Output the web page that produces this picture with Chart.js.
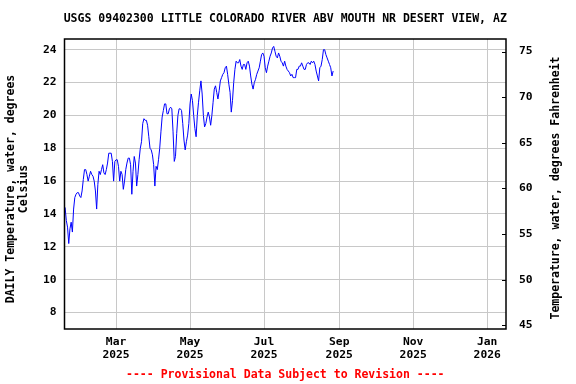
<!DOCTYPE html>
<html>
<head>
<meta charset="utf-8">
<script src="https://cdn.jsdelivr.net/npm/chart.js@4/dist/chart.umd.min.js"></script>
<style>
  html, body { margin: 0; padding: 0; background: #fff; }
  #wrap { width: 576px; height: 384px; }
</style>
</head>
<body>
<div id="wrap"><canvas id="chart" width="576" height="384"></canvas></div>
<script>
// Daily water temperature (deg C), one value per day from Jan 18, 2025
const startDay = 17; // day of year 2025 (Jan 1 = 0)
const tempC = [
  14.4, 13.6, 13.2, 12.2, 13.1, 13.5, 12.9, 14.3, 15.0, 15.2,
  15.3, 15.3, 15.1, 15.0, 15.4, 16.1, 16.7, 16.7, 16.4, 16.0,
  16.3, 16.6, 16.4, 16.3, 16.0, 15.4, 14.3, 15.8, 16.6, 16.4,
  16.7, 17.0, 16.5, 16.4, 16.7, 17.1, 17.7, 17.7, 17.7, 17.2,
  16.0, 17.2, 17.3, 17.3, 16.9, 16.0, 16.6, 16.4, 15.5, 16.0,
  16.7, 17.1, 17.4, 17.4, 17.0, 15.2, 16.6, 17.5, 17.1, 15.7,
  16.4, 17.3, 18.0, 18.4, 19.5, 19.8, 19.7, 19.7, 19.4, 18.7,
  18.0, 17.9, 17.6, 17.0, 15.7, 16.9, 16.7, 17.3, 18.0, 19.0,
  19.9, 20.3, 20.7, 20.7, 20.1, 20.1, 20.4, 20.5, 20.4, 19.0,
  17.2, 17.5, 18.9, 20.0, 20.4, 20.4, 20.3, 19.5, 18.5, 17.9,
  18.4, 18.8, 19.5, 20.7, 21.3, 20.9, 20.0, 19.2, 18.7, 20.0,
  20.8, 21.5, 22.1, 21.3, 20.0, 19.3, 19.5, 19.9, 20.2, 19.9,
  19.4, 20.0, 20.8, 21.6, 21.8, 21.4, 21.0, 21.5, 22.1, 22.3,
  22.5, 22.6, 22.9, 23.0, 22.5, 21.9, 21.4, 20.2, 20.9, 22.0,
  22.8, 23.3, 23.2, 23.2, 23.4, 23.0, 22.8, 23.1, 23.1, 22.8,
  23.2, 23.3, 23.0, 22.4, 21.9, 21.6, 22.0, 22.2, 22.5, 22.7,
  22.9, 23.3, 23.7, 23.8, 23.6, 22.9, 22.6, 23.0, 23.3, 23.6,
  23.8, 24.1, 24.2, 23.9, 23.6, 23.5, 23.8, 23.6, 23.3, 23.2,
  23.0, 23.3, 23.0, 22.8, 22.7, 22.6, 22.4, 22.5, 22.3, 22.3,
  22.3, 22.8, 22.8, 23.0, 23.0, 23.2, 23.0, 22.8, 22.8, 23.1,
  23.2, 23.2, 23.1, 23.3, 23.2, 23.3, 23.1, 22.7, 22.4, 22.1,
  22.9, 23.0, 23.4, 24.0, 24.0, 23.7, 23.5, 23.3, 23.1, 22.9,
  22.4, 22.7
];

// x ticks: day of year 2025 for the 1st of each month shown
const monthTickDays = [59, 120, 181, 243, 304, 365];
const monthTickLabels = [
  ["Mar", "2025"], ["May", "2025"], ["Jul", "2025"],
  ["Sep", "2025"], ["Nov", "2025"], ["Jan", "2026"]
];
const celsiusTicks = [8, 10, 12, 14, 16, 18, 20, 22, 24];
const fahrenheitTicks = [45, 50, 55, 60, 65, 70, 75];

const titleText = "USGS 09402300 LITTLE COLORADO RIVER ABV MOUTH NR DESERT VIEW, AZ";
const leftTitle = ["DAILY Temperature, water, degrees", "Celsius"];
const rightTitle = "Temperature, water, degrees Fahrenheit";
const footText = "---- Provisional Data Subject to Revision ----";

const yMinC = 7.0, yMaxC = 24.65;
const mono = '"DejaVu Sans Mono", "Liberation Mono", monospace';

const points = tempC.map((v, i) => ({ x: startDay + i, y: v }));

// titles, frame and inward ticks on the right axis
const decorPlugin = {
  id: "decor",
  afterDraw(chart) {
    const { ctx, chartArea: a } = chart;
    ctx.save();
    ctx.fillStyle = "#000";
    ctx.textAlign = "center";
    ctx.textBaseline = "middle";
    ctx.font = "bold 11.5px " + mono;
    ctx.fillText(titleText, (a.left + a.right) / 2, 19);

    // left axis title (two lines)
    ctx.save();
    ctx.translate(11, 189);
    ctx.rotate(-Math.PI / 2);
    ctx.fillText(leftTitle[0], 0, 0);
    ctx.fillText(leftTitle[1], 0, 13);
    ctx.restore();

    // right axis title
    ctx.save();
    ctx.translate(556, 188);
    ctx.rotate(-Math.PI / 2);
    ctx.fillText(rightTitle, 0, 0);
    ctx.restore();

    ctx.fillStyle = "#ff0000";
    ctx.fillText(footText, (a.left + a.right) / 2, 375);

    // frame
    ctx.strokeStyle = "#000";
    ctx.lineWidth = 1.5;
    ctx.strokeRect(a.left, a.top, a.right - a.left, a.bottom - a.top);

    // right axis ticks, pointing into the plot
    const y2 = chart.scales.y2;
    ctx.lineWidth = 1;
    y2.ticks.forEach((t) => {
      const py = Math.round(y2.getPixelForValue(t.value)) + 0.5;
      ctx.beginPath();
      ctx.moveTo(a.right - 4, py);
      ctx.lineTo(a.right, py);
      ctx.stroke();
    });
    ctx.restore();
  },
};

new Chart(document.getElementById("chart"), {
  type: "line",
  data: {
    datasets: [
      {
        data: points,
        borderColor: "#0000ff",
        borderWidth: 1,
        pointRadius: 0,
        tension: 0,
        fill: false,
      },
    ],
  },
  options: {
    responsive: false,
    animation: false,
    layout: { padding: { top: 39, left: 0, right: 0, bottom: 0 } },
    plugins: { legend: { display: false }, tooltip: { enabled: false } },
    scales: {
      x: {
        type: "linear",
        min: 16.5,
        max: 380.5,
        afterBuildTicks: (s) => { s.ticks = monthTickDays.map((v) => ({ value: v })); },
        afterFit: (s) => { s.height = 55; },
        grid: { color: "#c8c8c8", lineWidth: 1, drawTicks: false },
        border: { display: false },
        ticks: {
          autoSkip: false,
          maxRotation: 0,
          padding: 7,
          color: "#000",
          font: { family: mono, size: 11.3, weight: "bold", lineHeight: 1.15 },
          callback: (v) => monthTickLabels[monthTickDays.indexOf(v)],
        },
      },
      y: {
        position: "left",
        min: yMinC,
        max: yMaxC,
        afterBuildTicks: (s) => { s.ticks = celsiusTicks.map((v) => ({ value: v })); },
        afterFit: (s) => { s.width = 64.5; },
        grid: { color: "#c8c8c8", lineWidth: 1, drawTicks: false },
        border: { display: false },
        ticks: {
          padding: 8,
          color: "#000",
          font: { family: mono, size: 11.3, weight: "bold" },
        },
      },
      y2: {
        position: "right",
        min: yMinC * 1.8 + 32,
        max: yMaxC * 1.8 + 32,
        afterBuildTicks: (s) => { s.ticks = fahrenheitTicks.map((v) => ({ value: v })); },
        afterFit: (s) => { s.width = 70; },
        grid: { display: false, drawTicks: false },
        border: { display: false },
        ticks: {
          padding: 13,
          color: "#000",
          font: { family: mono, size: 11.3, weight: "bold" },
        },
      },
    },
  },
  plugins: [decorPlugin],
});
</script>
</body>
</html>
